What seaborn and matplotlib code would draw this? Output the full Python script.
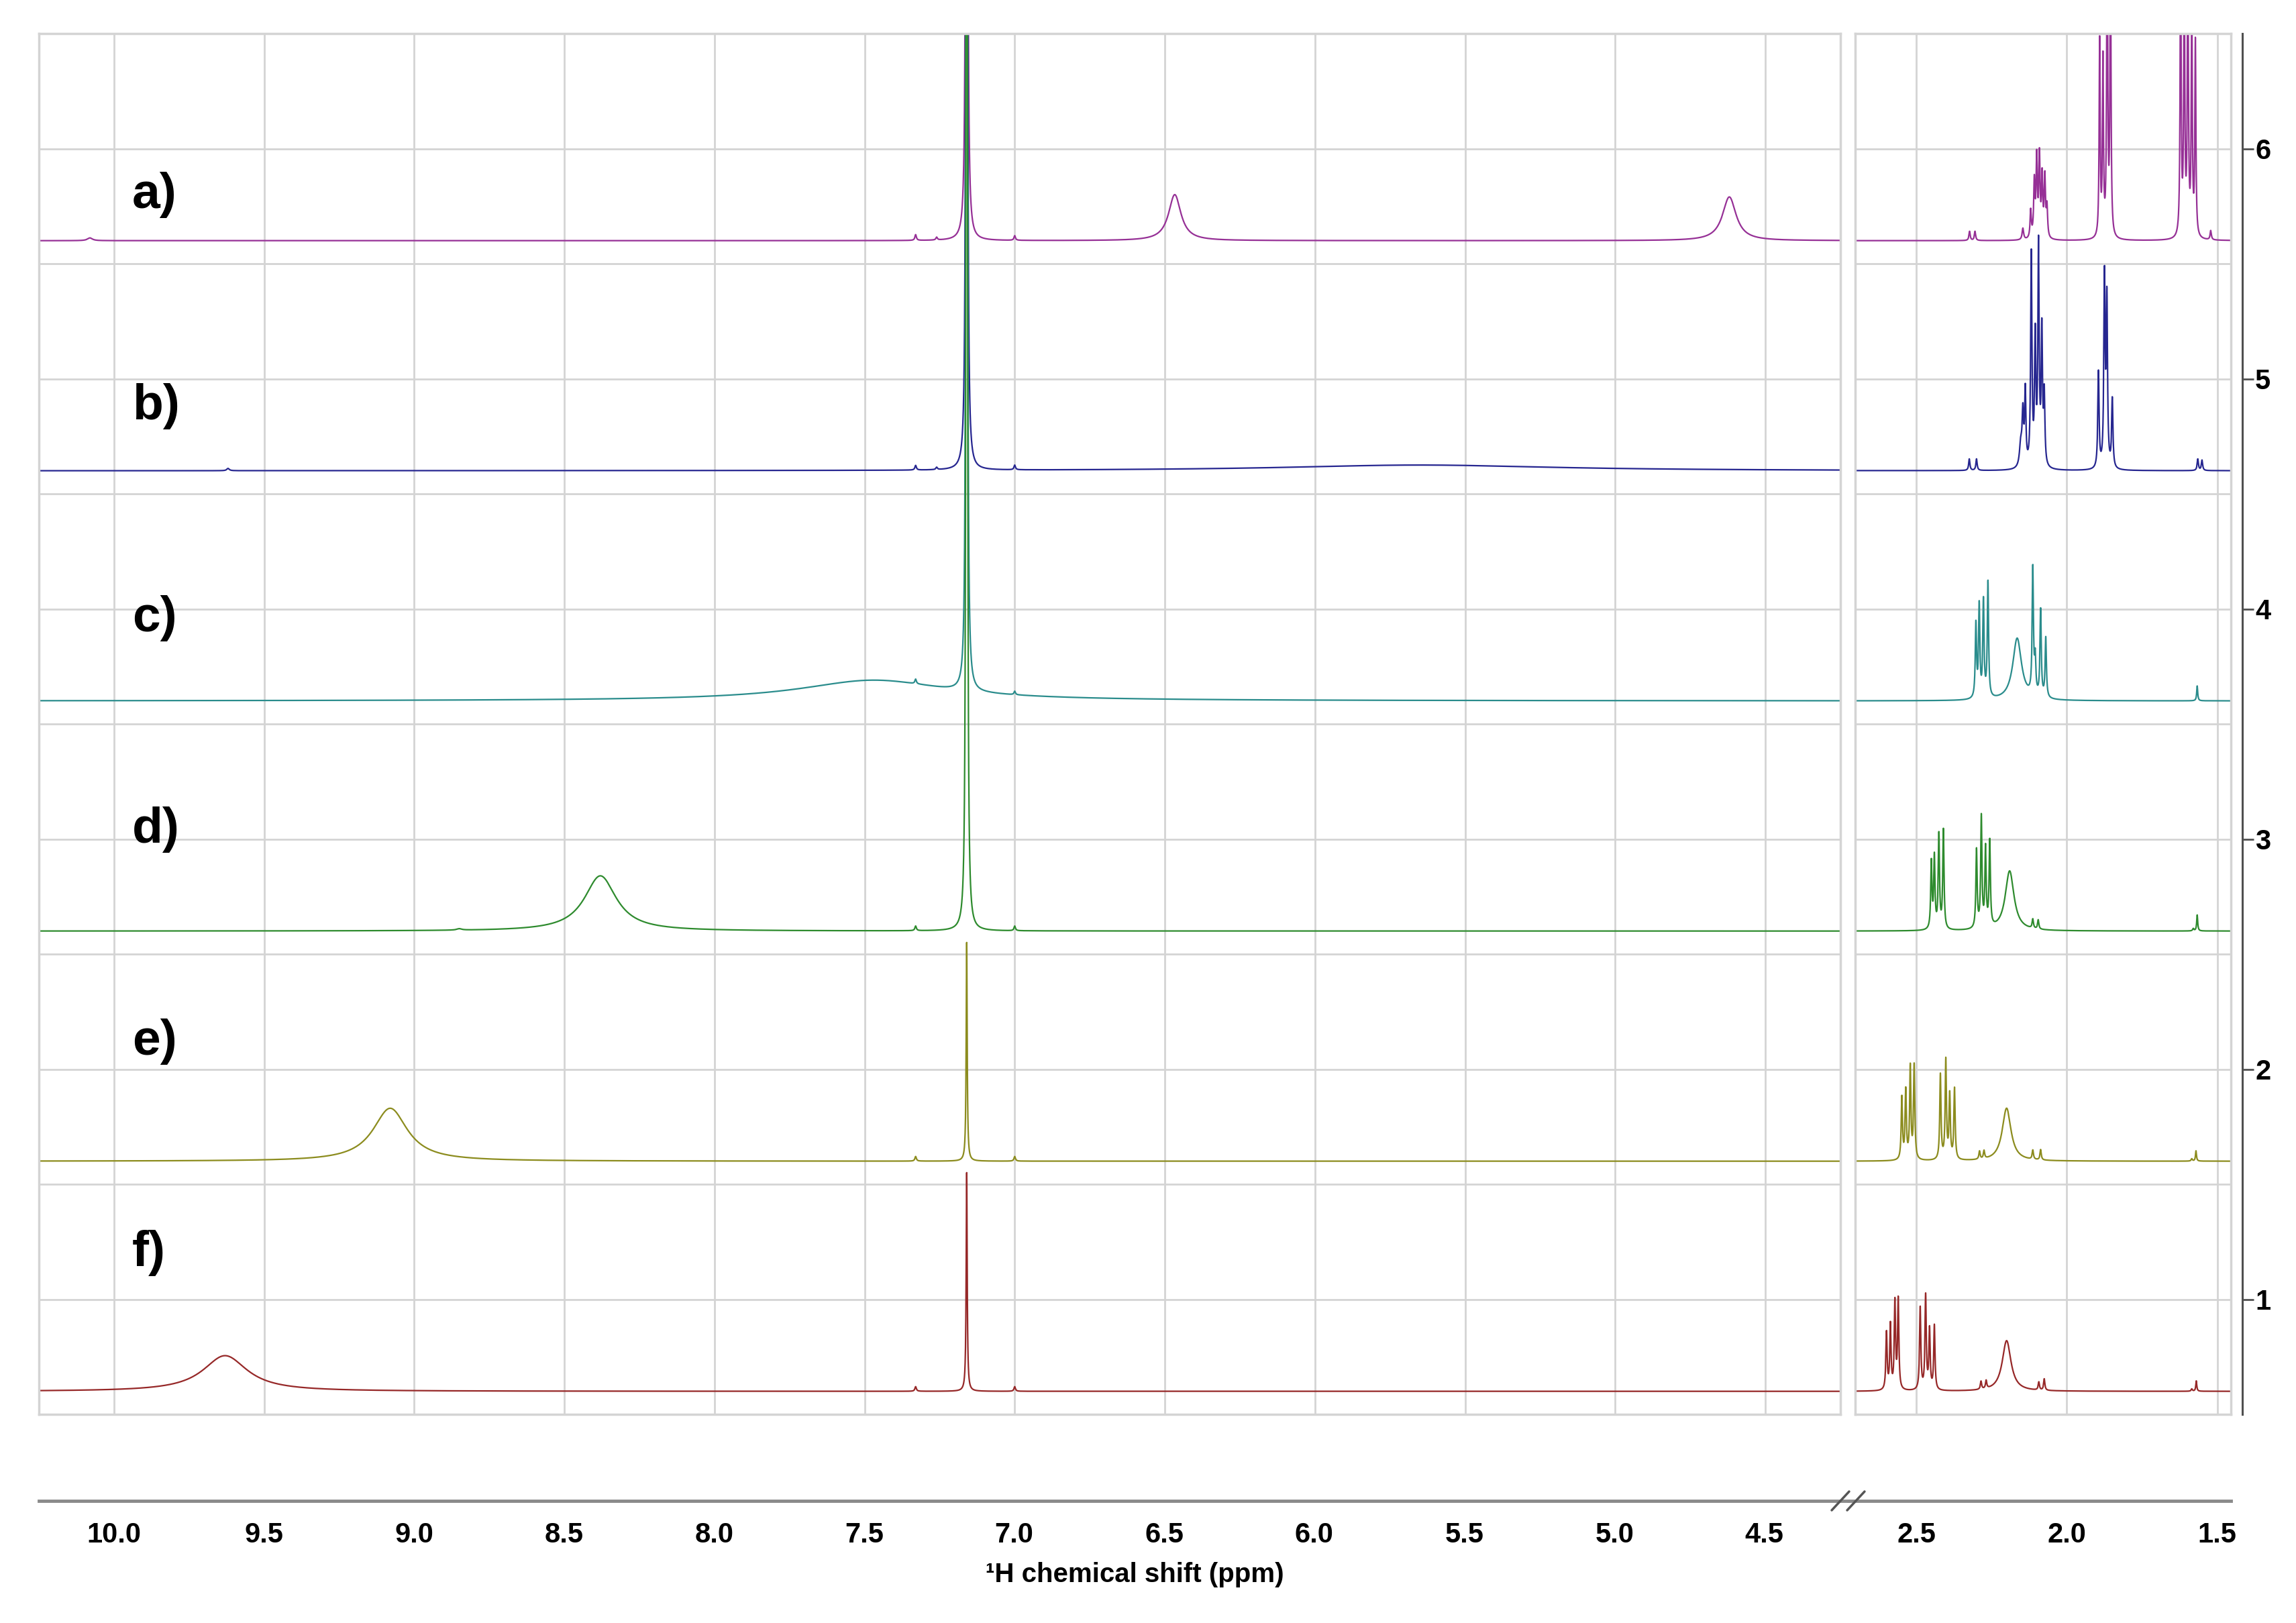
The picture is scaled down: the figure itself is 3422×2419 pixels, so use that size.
import numpy as np
import matplotlib
matplotlib.use('Agg')
import matplotlib.pyplot as plt
import seaborn as sns
from matplotlib.lines import Line2D
from matplotlib.ticker import FixedLocator, FormatStrFormatter

# stacked 1H NMR spectra, peak tables: (ppm, height, width)
labels = ['a)', 'b)', 'c)', 'd)', 'e)', 'f)']
offsets = [5.6, 4.6, 3.6, 2.6, 1.6, 0.6]
label_y = [5.80, 4.88, 3.96, 3.04, 2.12, 1.20]
colors = ['#963096', '#262690', '#2a8c8c', '#2e8b2e', '#8c8c1e', '#962828']

peaks_a = [(10.08, 0.012, 0.02), (7.33, 0.025, 0.006), (7.26, 0.012, 0.006), (7.16, 15, 0.003),
           (7.00, 0.02, 0.006), (6.467, 0.20, 0.05), (4.62, 0.19, 0.055),
           (2.323, 0.04, 0.005), (2.305, 0.04, 0.005),
           (2.146, 0.05, 0.006), (2.12, 0.12, 0.005), (2.108, 0.24, 0.005), (2.100, 0.34, 0.005),
           (2.091, 0.35, 0.005), (2.082, 0.26, 0.005), (2.073, 0.26, 0.005), (2.066, 0.13, 0.005),
           (1.891, 0.86, 0.004), (1.880, 0.76, 0.004), (1.866, 1.4, 0.004), (1.855, 1.3, 0.004),
           (1.622, 1.3, 0.004), (1.610, 1.2, 0.004), (1.598, 1.3, 0.004), (1.585, 1.0, 0.004),
           (1.573, 0.85, 0.004), (1.522, 0.04, 0.005)]
peaks_b = [(9.62, 0.01, 0.01), (7.33, 0.02, 0.006), (7.26, 0.01, 0.006), (7.16, 15, 0.003),
           (7.00, 0.02, 0.006), (5.65, 0.025, 1.1),
           (2.324, 0.05, 0.005), (2.30, 0.05, 0.005),
           (2.153, 0.10, 0.01), (2.146, 0.22, 0.006), (2.138, 0.32, 0.005), (2.118, 0.92, 0.005),
           (2.105, 0.55, 0.005), (2.094, 0.95, 0.005), (2.083, 0.58, 0.005), (2.075, 0.30, 0.005),
           (1.895, 0.42, 0.005), (1.875, 0.82, 0.005), (1.867, 0.72, 0.005), (1.849, 0.30, 0.005),
           (1.565, 0.05, 0.005), (1.551, 0.045, 0.005)]
peaks_c = [(7.47, 0.09, 0.6), (7.33, 0.02, 0.006), (7.16, 15, 0.003), (7.00, 0.015, 0.006),
           (2.302, 0.32, 0.005), (2.291, 0.40, 0.005), (2.277, 0.42, 0.005), (2.262, 0.50, 0.005),
           (2.165, 0.27, 0.035), (2.113, 0.55, 0.005), (2.105, 0.15, 0.005), (2.087, 0.38, 0.005),
           (2.070, 0.26, 0.005), (1.567, 0.065, 0.004)]
peaks_d = [(8.85, 0.006, 0.02), (8.38, 0.24, 0.13), (7.33, 0.02, 0.006), (7.16, 15, 0.003),
           (7.00, 0.02, 0.006),
           (2.45, 0.29, 0.005), (2.44, 0.31, 0.005), (2.425, 0.41, 0.005), (2.41, 0.43, 0.005),
           (2.30, 0.34, 0.005), (2.284, 0.48, 0.005), (2.27, 0.34, 0.005), (2.256, 0.37, 0.005),
           (2.19, 0.26, 0.035), (2.113, 0.04, 0.005), (2.095, 0.04, 0.005),
           (1.58, 0.01, 0.005), (1.567, 0.07, 0.004)]
peaks_e = [(9.08, 0.23, 0.14), (7.33, 0.02, 0.006), (7.16, 0.95, 0.004), (7.00, 0.02, 0.006),
           (2.548, 0.27, 0.005), (2.535, 0.30, 0.005), (2.52, 0.40, 0.005), (2.507, 0.41, 0.005),
           (2.42, 0.37, 0.005), (2.402, 0.43, 0.005), (2.389, 0.28, 0.005), (2.373, 0.31, 0.005),
           (2.29, 0.035, 0.005), (2.275, 0.035, 0.005), (2.20, 0.23, 0.035),
           (2.113, 0.04, 0.005), (2.087, 0.045, 0.005), (1.585, 0.01, 0.005), (1.571, 0.045, 0.004)]
peaks_f = [(9.63, 0.155, 0.18), (7.33, 0.02, 0.006), (7.16, 0.95, 0.004), (7.00, 0.02, 0.006),
           (2.599, 0.25, 0.005), (2.586, 0.28, 0.005), (2.571, 0.38, 0.005), (2.56, 0.39, 0.005),
           (2.487, 0.36, 0.005), (2.469, 0.41, 0.005), (2.456, 0.26, 0.005), (2.44, 0.28, 0.005),
           (2.285, 0.035, 0.005), (2.268, 0.035, 0.005), (2.20, 0.22, 0.035),
           (2.093, 0.035, 0.005), (2.075, 0.05, 0.005), (1.585, 0.01, 0.005), (1.57, 0.045, 0.004)]
peak_tables = [peaks_a, peaks_b, peaks_c, peaks_d, peaks_e, peaks_f]

left_ticks = [10.0, 9.5, 9.0, 8.5, 8.0, 7.5, 7.0, 6.5, 6.0, 5.5, 5.0, 4.5]
right_ticks = [2.5, 2.0, 1.5]
y_ticks = [1, 2, 3, 4, 5, 6]


def spectrum(peaks, x):
    y = np.zeros_like(x)
    for c, h, w in peaks:
        y += h / (1 + ((x - c) / (w / 2)) ** 2)
    return y


sns.set_style('white')
plt.rcParams['font.family'] = ['Liberation Sans', 'DejaVu Sans']
plt.rcParams['font.weight'] = 'bold'
plt.rcParams['text.color'] = 'black'
plt.rcParams['xtick.labelcolor'] = 'black'
plt.rcParams['ytick.labelcolor'] = 'black'

W, H = 3422, 2419
fig = plt.figure(figsize=(W / 100, H / 100), dpi=100)
bot, top = 1 - 2108 / H, 1 - 50 / H
ax_l = fig.add_axes([58 / W, bot, (2743 - 58) / W, top - bot])
ax_r = fig.add_axes([2765 / W, bot, (3325 - 2765) / W, top - bot])

ppm = np.arange(1.44, 10.3, 0.0004)
grid_c = '#d4d4d4'
for ax, xlim, xt in [(ax_l, (10.25, 4.25), left_ticks), (ax_r, (2.703, 1.455), right_ticks)]:
    for off, pk, col in zip(offsets, peak_tables, colors):
        sns.lineplot(x=ppm, y=off + spectrum(pk, ppm), ax=ax, color=col, linewidth=1.6,
                     estimator=None, sort=False)
    ax.set_xlim(*xlim)
    ax.set_ylim(0.5, 6.5)
    ax.set_xticks(xt)
    ax.set_yticks(np.arange(1.0, 6.01, 0.5))
    ax.tick_params(length=0, labelbottom=False, labelleft=False)
    ax.grid(True, color=grid_c, linewidth=2)
    ax.set_axisbelow(True)
    ax.set_xlabel('')
    ax.set_ylabel('')
    for s in ax.spines.values():
        s.set_visible(True)
        s.set_color(grid_c)
        s.set_linewidth(2.5)

for lab, yy in zip(labels, label_y):
    ax_l.text(9.94, yy, lab, fontsize=54, fontweight='bold', color='black',
              ha='left', va='center')

# right intensity axis
ay = ax_r.twinx()
ay.set_ylim(0.5, 6.5)
ay.set_yticks(y_ticks)
for s in ['top', 'bottom', 'left']:
    ay.spines[s].set_visible(False)
ay.spines['right'].set_position(('outward', 12))
ay.spines['right'].set_color('#505050')
ay.spines['right'].set_linewidth(2.2)
ay.tick_params(axis='y', length=12, width=2, color='#505050', pad=2, labelsize=30,
               direction='out', labelcolor='black')
ay.grid(False)

# bottom chemical shift axis with a break
y_ax = 1 - 2237 / H
bx_l = fig.add_axes([58 / W, y_ax, (2755 - 58) / W, 1e-4])
bx_r = fig.add_axes([2755 / W, y_ax, (3325 - 2755) / W, 1e-4])
for bx, xlim, major, minor in [(bx_l, (10.25, 4.22), left_ticks, [9.75, 9.25, 8.75, 8.25, 7.75, 7.25, 6.75, 6.25, 5.75, 5.25, 4.75]),
                               (bx_r, (2.725, 1.455), right_ticks, [2.25, 1.75])]:
    bx.set_facecolor('none')
    bx.set_xlim(*xlim)
    bx.set_yticks([])
    for s in ['top', 'left', 'right']:
        bx.spines[s].set_visible(False)
    bx.spines['bottom'].set_color('#8a8a8a')
    bx.spines['bottom'].set_linewidth(3.5)
    bx.xaxis.set_major_locator(FixedLocator(major))
    bx.xaxis.set_minor_locator(FixedLocator(minor))
    bx.xaxis.set_major_formatter(FormatStrFormatter('%.1f'))
    bx.tick_params(axis='x', which='major', length=13, width=2, color='#555555', pad=9,
                   labelsize=30, direction='out', labelcolor='black')
    bx.tick_params(axis='x', which='minor', length=6, width=2, color='#777777', direction='out')

for x0 in [2730, 2753]:
    fig.add_artist(Line2D([x0 / W, (x0 + 26) / W], [1 - 2251 / H, 1 - 2223 / H],
                          color='#555555', linewidth=2.5, transform=fig.transFigure))

fig.text(1691 / W, 1 - 2358 / H, '\u00b9H chemical shift (ppm)', fontsize=29,
         fontweight='bold', color='black', ha='center', va='baseline')

fig.savefig('out.png', dpi=100, facecolor='white')
